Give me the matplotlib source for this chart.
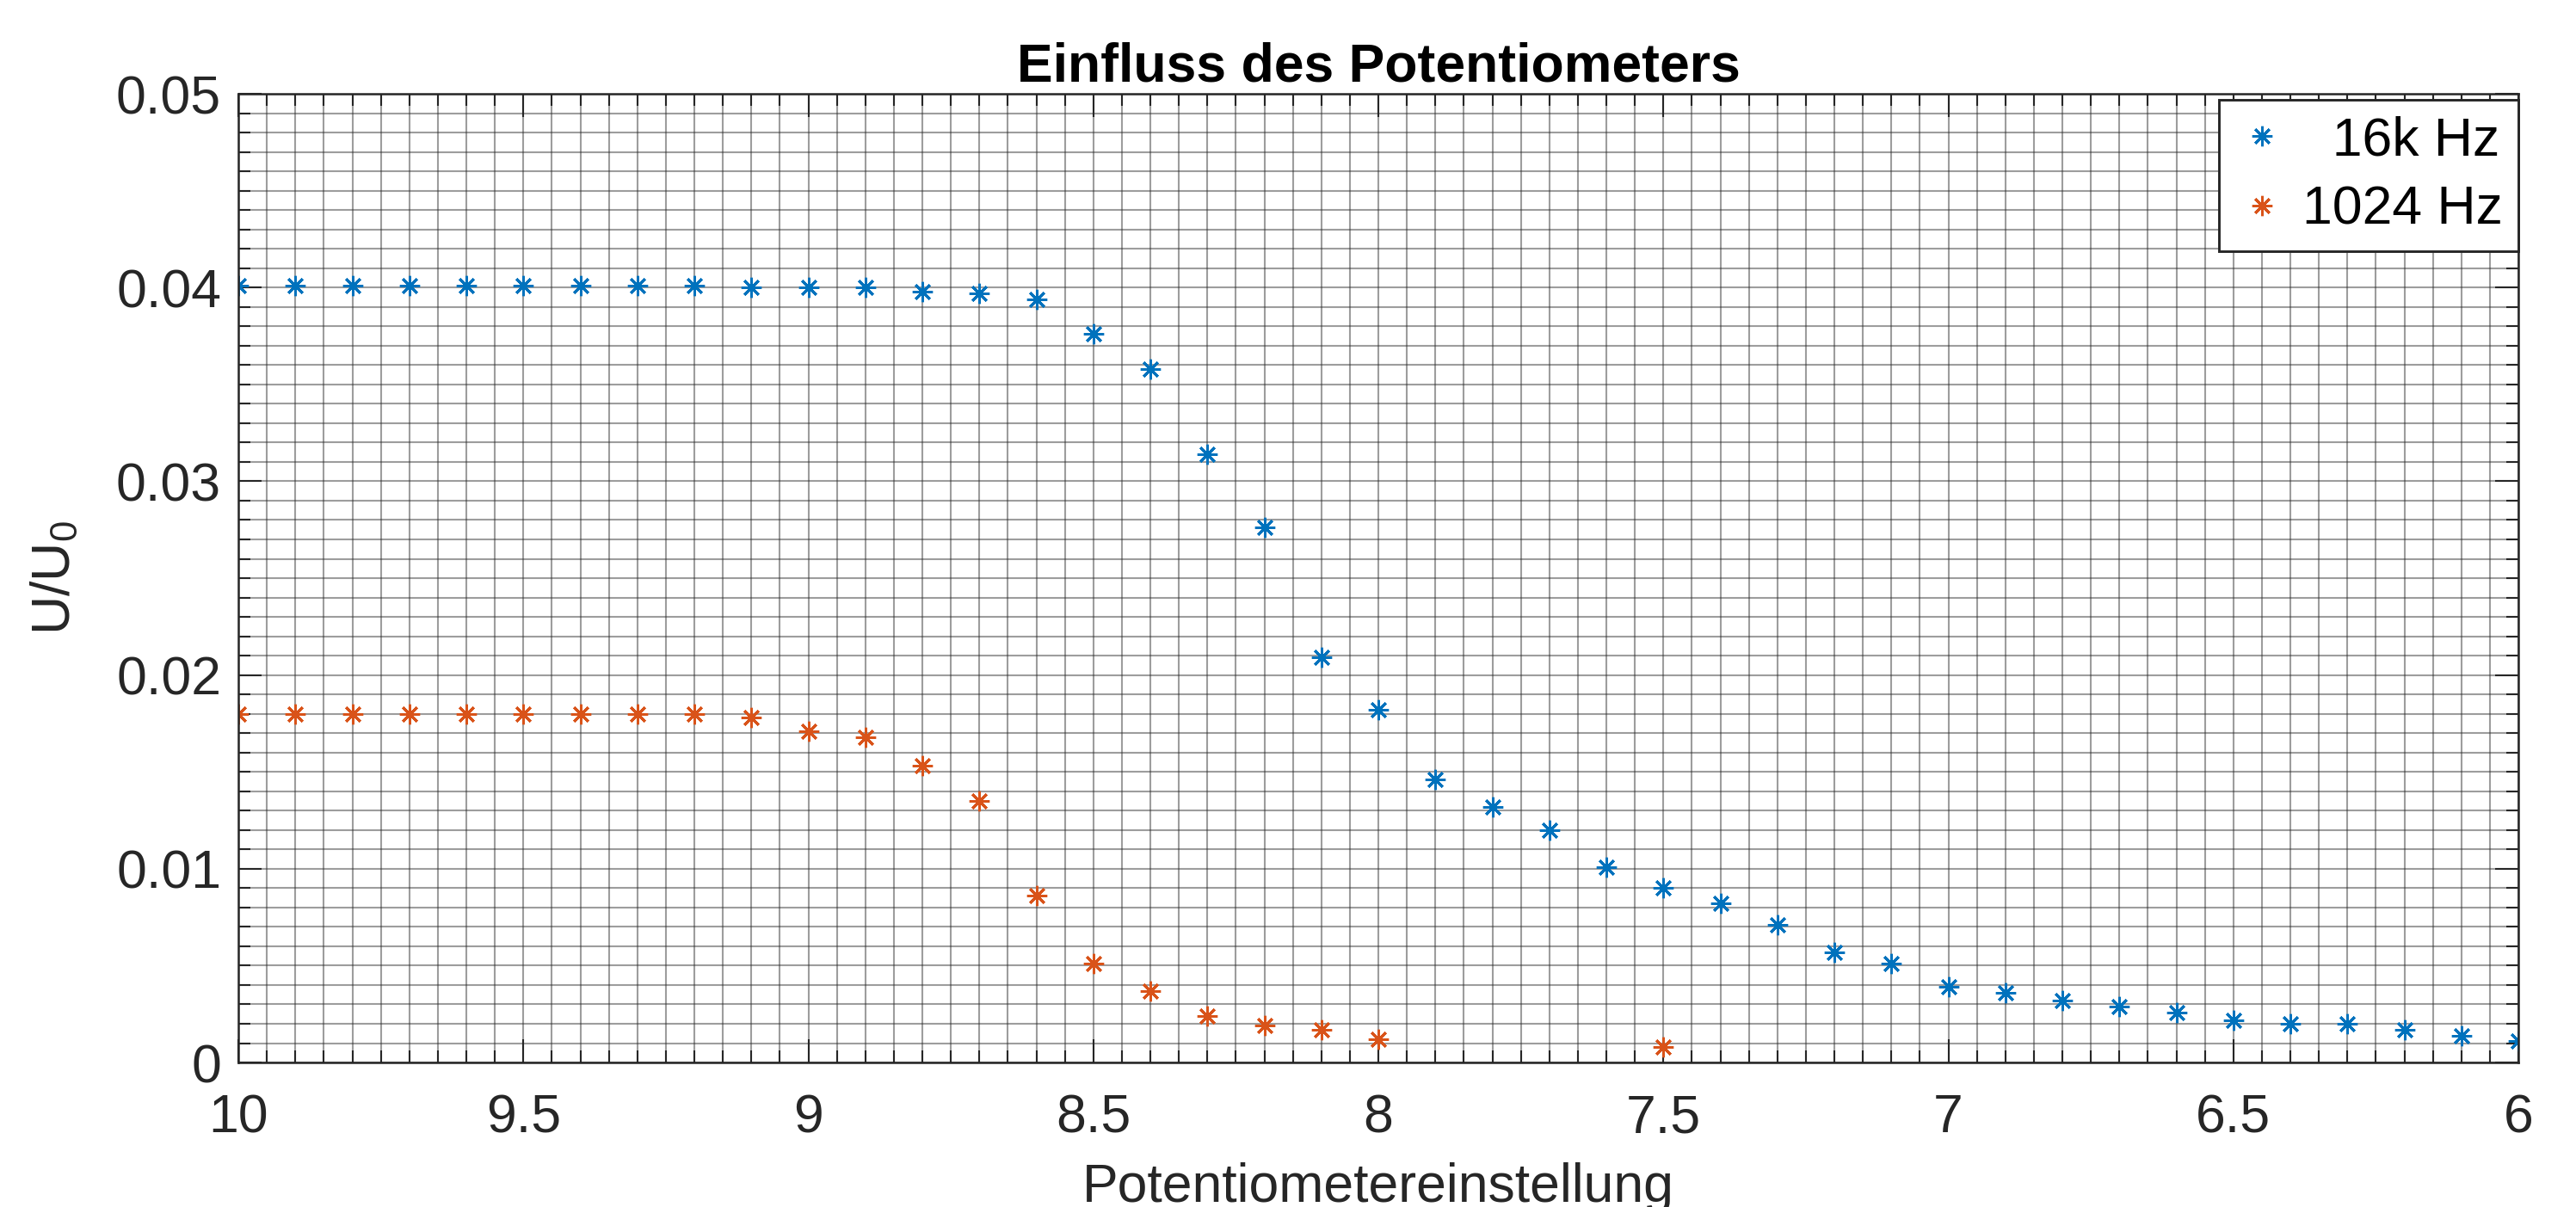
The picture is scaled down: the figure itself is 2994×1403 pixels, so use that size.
import matplotlib
matplotlib.use( 'Agg' )
import matplotlib.pyplot as plt
from matplotlib.ticker import MultipleLocator, FixedLocator

# potentiometer setting (x) and U/U0 for both frequencies
pot_16k = [ 10.0, 9.9, 9.8, 9.7, 9.6, 9.5, 9.4, 9.3, 9.2, 9.1,
            9.0, 8.9, 8.8, 8.7, 8.6, 8.5, 8.4, 8.3, 8.2, 8.1,
            8.0, 7.9, 7.8, 7.7, 7.6, 7.5, 7.4, 7.3, 7.2, 7.1,
            7.0, 6.9, 6.8, 6.7, 6.6, 6.5, 6.4, 6.3, 6.2, 6.1, 6.0 ]
u_16k = [ 0.0401, 0.0401, 0.0401, 0.0401, 0.0401, 0.0401, 0.0401, 0.0401, 0.0401, 0.0400,
          0.0400, 0.0400, 0.0398, 0.0397, 0.0394, 0.0376, 0.0358, 0.0314, 0.0276, 0.0209,
          0.0182, 0.0146, 0.0132, 0.0120, 0.0101, 0.0090, 0.0082, 0.0071, 0.0057, 0.0051,
          0.0039, 0.0036, 0.0032, 0.0029, 0.0026, 0.0022, 0.0020, 0.0020, 0.0017, 0.0014, 0.0011 ]

pot_1024 = [ 10.0, 9.9, 9.8, 9.7, 9.6, 9.5, 9.4, 9.3, 9.2, 9.1,
             9.0, 8.9, 8.8, 8.7, 8.6, 8.5, 8.4, 8.3, 8.2, 8.1, 8.0, 7.5 ]
u_1024 = [ 0.0180, 0.0180, 0.0180, 0.0180, 0.0180, 0.0180, 0.0180, 0.0180, 0.0180, 0.0178,
           0.0171, 0.0168, 0.0153, 0.0135, 0.0086, 0.0051, 0.0037, 0.0024, 0.0019, 0.0017,
           0.0012, 0.0008 ]

x_ticks = [ 10, 9.5, 9, 8.5, 8, 7.5, 7, 6.5, 6 ]
x_tick_labels = [ '10', '9.5', '9', '8.5', '8', '7.5', '7', '6.5', '6' ]
y_ticks = [ 0, 0.01, 0.02, 0.03, 0.04, 0.05 ]
y_tick_labels = [ '0', '0.01', '0.02', '0.03', '0.04', '0.05' ]

labels = [ '  16k Hz', '1024 Hz' ]
colors = [ '#0072BD', '#D95319' ]

plt.rcParams['font.family'] = [ 'Liberation Sans', 'DejaVu Sans' ]
plt.rcParams['mathtext.fontset'] = 'custom'
plt.rcParams['mathtext.rm'] = 'Liberation Sans'
plt.rcParams['mathtext.it'] = 'Liberation Sans'

fig = plt.figure( figsize=( 2995/300, 1403/300 ), dpi=300, facecolor='w' )
ax = fig.add_axes( [ 0.0925, 0.1197, 0.8848, 0.8026 ] )

asterisk = ( 8, 2, 0 )  # MATLAB style '*'
ax.plot( pot_16k, u_16k, linestyle='none', marker=asterisk, ms=5.6, mew=0.7,
         color=colors[0], label=labels[0] )
ax.plot( pot_1024, u_1024, linestyle='none', marker=asterisk, ms=5.6, mew=0.7,
         color=colors[1], label=labels[1] )

ax.set_xlim( 10, 6 )
ax.set_ylim( 0, 0.05 )
ax.xaxis.set_major_locator( FixedLocator( x_ticks ) )
ax.set_xticklabels( x_tick_labels )
ax.yaxis.set_major_locator( FixedLocator( y_ticks ) )
ax.set_yticklabels( y_tick_labels )
ax.xaxis.set_minor_locator( MultipleLocator( 0.05 ) )
ax.yaxis.set_minor_locator( MultipleLocator( 0.001 ) )

ax.set_axisbelow( True )
ax.grid( which='both', color='#262626', alpha=0.45, linewidth=0.5 )

ax.tick_params( which='both', direction='in', top=True, right=True,
                colors='#262626', labelsize=15, width=0.5 )
ax.tick_params( which='major', length=6.5 )
ax.tick_params( which='minor', length=3.3 )
ax.tick_params( axis='x', which='major', pad=8.4 )
ax.tick_params( axis='y', which='major', pad=4.8 )
for s in ax.spines.values( ):
    s.set_linewidth( 0.6 )
    s.set_color( '#262626' )

ax.set_title( 'Einfluss des Potentiometers', fontsize=15, fontweight='bold', pad=3.6 )
ax.set_xlabel( 'Potentiometereinstellung', fontsize=15, color='#262626', labelpad=5.3 )
ax.set_ylabel( r'U/U$_0$', fontsize=15, color='#262626', labelpad=9.8 )

leg = ax.legend( loc='upper right', bbox_to_anchor=( 1.0, 1 - 7/1127 ), borderaxespad=0,
                 fontsize=15, frameon=True, fancybox=False, framealpha=1,
                 edgecolor='#262626', borderpad=0.29, labelspacing=0.34,
                 handlelength=1.02, handletextpad=0.25 )
leg.get_frame( ).set_linewidth( 0.7 )

fig.savefig( 'out.png', dpi=300 )
